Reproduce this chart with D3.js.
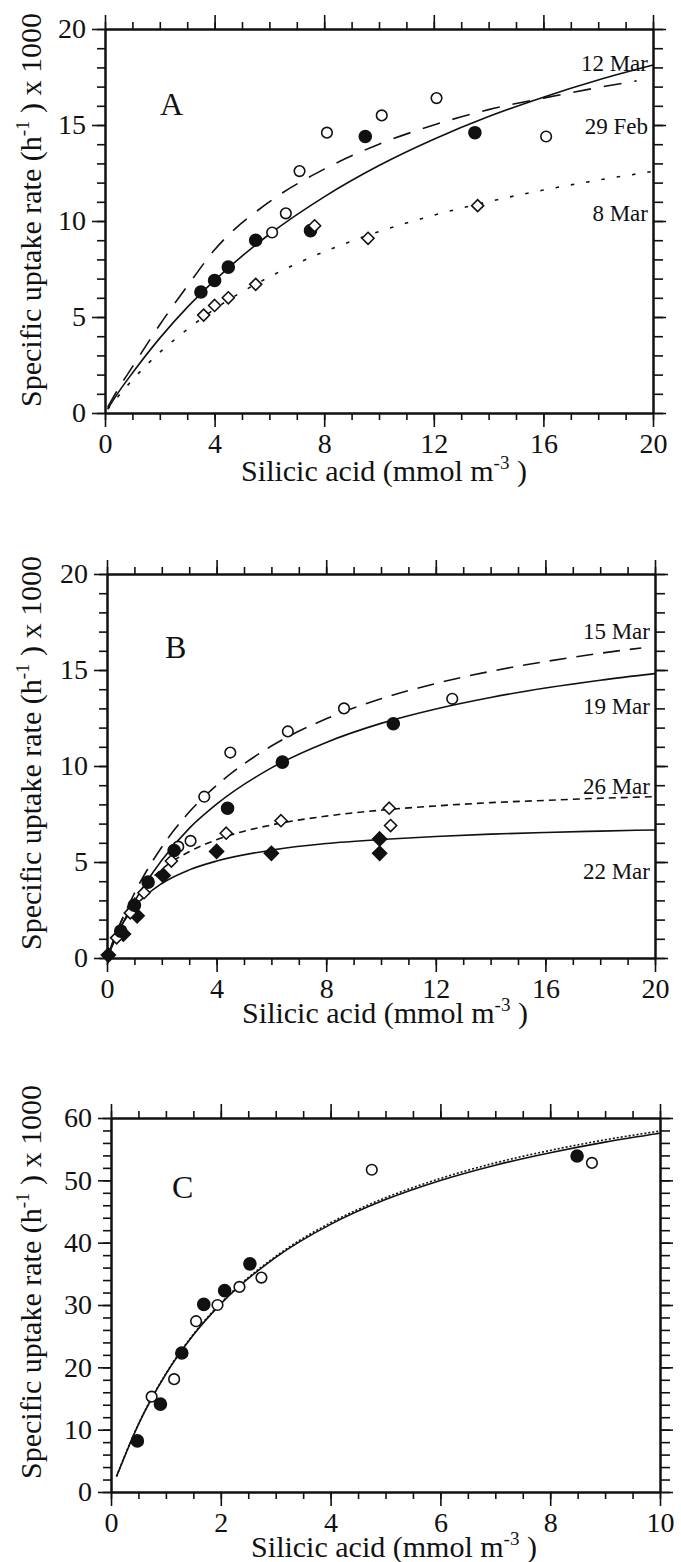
<!DOCTYPE html>
<html lang="en">
<head>
<meta charset="UTF-8" />
<title>Silicic acid uptake</title>
<script src="https://d3js.org/d3.v7.min.js"></script>
<style>
  body { margin: 0; background: #fff; }
  svg { display: block; }
  text { font-family: "Liberation Serif", "Times New Roman", serif; fill: #111; }
  .axis text { font-size: 28px; }
  .axis line { stroke: #111; stroke-width: 1.6; }
  .axis path { stroke: #111; stroke-width: 2; }
  .curve { fill: none; stroke: #111; stroke-width: 1.6; }
</style>
</head>
<body>
<div id="chart"></div>
<script>
// ---- Panel A : [silicic acid, rate] ----
const aFilled = [[3.5, 6.3], [4.0, 6.9], [4.5, 7.6], [5.5, 9.0], [7.5, 9.5], [9.5, 14.4], [13.5, 14.6]];
const aOpen = [[6.1, 9.4], [6.6, 10.4], [7.1, 12.6], [8.1, 14.6], [10.1, 15.5], [12.1, 16.4], [16.1, 14.4]];
const aDiamond = [[3.6, 5.1], [4.0, 5.6], [4.5, 6.0], [5.5, 6.7], [7.65, 9.75], [9.6, 9.1], [13.6, 10.8]];

const aSolid = [[0.1, 0.22], [0.5, 1.1], [1, 2.08], [2, 3.9], [3, 5.5], [4, 6.91], [6, 9.31], [8, 11.26],
  [10, 12.89], [12, 14.26], [14, 15.44], [16, 16.45], [18, 17.34], [20, 18.12]];
const aDashed = [[0.1, 0.3], [0.5, 1.3], [1, 2.4], [2, 4.6], [3, 6.6], [4, 8.5], [6, 11.0], [8, 12.7],
  [10, 14.0], [12, 15.0], [14, 15.8], [16, 16.4], [18, 16.95], [19.4, 17.3]];
const aDotted = [[0.1, 0.19], [0.5, 0.9], [1, 1.72], [2, 3.16], [3, 4.35], [4, 5.41], [6, 7.09], [8, 8.4],
  [10, 9.45], [12, 10.3], [14, 11.01], [16, 11.61], [18, 12.13], [20, 12.58]];
const aLabels = [["12 Mar", 18.2], ["29 Feb", 14.9], ["8 Mar", 10.4]];

// ---- Panel B ----
const bOpen = [[2.6, 5.8], [3.05, 6.1], [3.55, 8.4], [4.5, 10.7], [6.6, 11.8], [8.65, 13.0], [12.6, 13.5]];
const bFilled = [[0.5, 1.4], [1.0, 2.75], [1.5, 3.95], [2.45, 5.6], [4.4, 7.8], [6.4, 10.2], [10.45, 12.2]];
const bDiamondOpen = [[0.35, 1.05], [0.85, 2.35], [1.35, 3.4], [2.35, 5.05], [4.35, 6.5], [6.35, 7.15], [10.3, 7.8], [10.35, 6.9]];
const bDiamondFilled = [[0.05, 0.15], [0.6, 1.25], [1.1, 2.2], [2.05, 4.3], [4.0, 5.55], [6.0, 5.45], [9.95, 6.2], [9.95, 5.45]];

const bDash15 = [[0, 0], [0.5, 1.84], [1, 3.37], [2, 5.78], [3, 7.6], [4, 8.99], [6, 11.04], [8, 12.46],
  [10, 13.5], [12, 14.3], [14, 14.93], [16, 15.44], [18, 15.87], [19.5, 16.15]];
const bSolid19 = [[0, 0], [0.5, 1.6], [1, 2.94], [2, 5.09], [3, 6.75], [4, 8.01], [6, 9.9], [8, 11.23],
  [10, 12.22], [12, 12.97], [14, 13.57], [16, 14.06], [18, 14.47], [20, 14.81]];
const bDash26 = [[0, 0], [0.5, 1.85], [1, 3.08], [2, 4.62], [3, 5.54], [4, 6.16], [6, 6.93], [8, 7.39],
  [10, 7.7], [12, 7.92], [14, 8.09], [16, 8.21], [18, 8.32], [20, 8.4]];
const bSolid22 = [[0, 0], [0.5, 1.62], [1, 2.65], [2, 3.88], [3, 4.59], [4, 5.05], [6, 5.62], [8, 5.96],
  [10, 6.17], [12, 6.33], [14, 6.45], [16, 6.54], [18, 6.61], [20, 6.67]];
const bLabels = [["15 Mar", 17.0], ["19 Mar", 13.1], ["26 Mar", 8.9], ["22 Mar", 4.5]];

// ---- Panel C ----
const cFilled = [[0.48, 8.2], [0.9, 14.1], [1.29, 22.3], [1.69, 30.1], [2.07, 32.3], [2.53, 36.6], [8.49, 53.9]];
const cOpen = [[0.74, 15.3], [1.15, 18.1], [1.55, 27.4], [1.94, 30.0], [2.34, 32.9], [2.74, 34.4], [4.75, 51.7], [8.76, 52.8]];
const cSolid = [[0.1, 2.46], [0.5, 10.85], [1, 18.93], [1.5, 25.19], [2, 30.18], [3, 37.64], [4, 42.94],
  [5, 46.91], [6, 49.98], [7, 52.43], [8, 54.43], [9, 56.13], [10, 57.54]];
const cDotted = [[0.1, 2.5], [0.5, 10.9], [1, 19.0], [1.5, 25.3], [2, 30.3], [3, 37.8], [4, 43.2],
  [5, 47.2], [6, 50.3], [7, 52.8], [8, 54.8], [9, 56.5], [10, 57.9]];

// tick values
const abXMajor = [0, 4, 8, 12, 16, 20];
const abYMajor = [0, 5, 10, 15, 20];
const cXMajor = [0, 2, 4, 6, 8, 10];
const cYMajor = [0, 10, 20, 30, 40, 50, 60];

const width = 681, height = 1562;

const svg = d3.select("#chart").append("svg")
  .attr("width", width)
  .attr("height", height);

const panels = [
  {
    letter: "A", left: 105, right: 653, top: 29, bottom: 413,
    xMax: 20, yMax: 20, xMajor: abXMajor, yMajor: abYMajor, xMinorStep: 1, yMinorStep: 1, yRightStep: 1,
    yTitleCenter: 210, xTitleCenter: 384, xTitleY: 481, letterX: 160, letterY: 115,
    curves: [
      { data: aSolid, dash: null },
      { data: aDashed, dash: "18,13" },
      { data: aDotted, dash: "3.5,12" }
    ],
    marks: [
      { data: aOpen, shape: "circle", filled: false },
      { data: aFilled, shape: "circle", filled: true },
      { data: aDiamond, shape: "diamond", filled: false }
    ],
    labels: aLabels
  },
  {
    letter: "B", left: 107, right: 655, top: 574, bottom: 958,
    xMax: 20, yMax: 20, xMajor: abXMajor, yMajor: abYMajor, xMinorStep: 1, yMinorStep: 1, yRightStep: 1,
    yTitleCenter: 753, xTitleCenter: 385, xTitleY: 1023, letterX: 165, letterY: 658,
    curves: [
      { data: bDash15, dash: "17,10" },
      { data: bSolid19, dash: null },
      { data: bDash26, dash: "7,5" },
      { data: bSolid22, dash: null }
    ],
    marks: [
      { data: bDiamondFilled, shape: "diamond", filled: true },
      { data: bDiamondOpen, shape: "diamond", filled: false },
      { data: bOpen, shape: "circle", filled: false },
      { data: bFilled, shape: "circle", filled: true }
    ],
    labels: bLabels
  },
  {
    letter: "C", left: 111, right: 660, top: 1118, bottom: 1492,
    xMax: 10, yMax: 60, xMajor: cXMajor, yMajor: cYMajor, xMinorStep: 0.5, yMinorStep: 2, yRightStep: 2,
    yTitleCenter: 1282, xTitleCenter: 394, xTitleY: 1557, letterX: 172, letterY: 1198,
    curves: [
      { data: cSolid, dash: null },
      { data: cDotted, dash: "2,2" }
    ],
    marks: [
      { data: cOpen, shape: "circle", filled: false },
      { data: cFilled, shape: "circle", filled: true }
    ],
    labels: []
  }
];

function drawPanel(p) {
  const w = p.right - p.left, h = p.bottom - p.top;
  const x = d3.scaleLinear().domain([0, p.xMax]).range([0, w]);
  const y = d3.scaleLinear().domain([0, p.yMax]).range([h, 0]);
  const g = svg.append("g").attr("transform", `translate(${p.left},${p.top})`);

  const xMinor = d3.range(0, p.xMax + 1e-9, p.xMinorStep);
  const yMinor = d3.range(0, p.yMax + 1e-9, p.yMinorStep);
  const yRight = d3.range(0, p.yMax + 1e-9, p.yRightStep);

  // bottom
  g.append("g").attr("class", "axis").attr("transform", `translate(0,${h})`)
    .call(d3.axisBottom(x).tickValues(xMinor).tickSize(7).tickSizeOuter(0).tickFormat(""));
  g.append("g").attr("class", "axis").attr("transform", `translate(0,${h})`)
    .call(d3.axisBottom(x).tickValues(p.xMajor).tickSize(14).tickPadding(6).tickSizeOuter(0).tickFormat(d3.format("d")));
  // top
  g.append("g").attr("class", "axis")
    .call(d3.axisTop(x).tickValues(xMinor).tickSize(7).tickSizeOuter(0).tickFormat(""));
  g.append("g").attr("class", "axis")
    .call(d3.axisTop(x).tickValues(p.xMajor).tickSize(14).tickSizeOuter(0).tickFormat(""));
  // left
  g.append("g").attr("class", "axis")
    .call(d3.axisLeft(y).tickValues(yMinor).tickSize(8).tickSizeOuter(0).tickFormat(""));
  g.append("g").attr("class", "axis")
    .call(d3.axisLeft(y).tickValues(p.yMajor).tickSize(13).tickPadding(6).tickSizeOuter(0).tickFormat(d3.format("d")));
  // right
  g.append("g").attr("class", "axis").attr("transform", `translate(${w},0)`)
    .call(d3.axisRight(y).tickValues(yRight).tickSize(10).tickSizeOuter(0).tickFormat(""));
  g.append("g").attr("class", "axis").attr("transform", `translate(${w},0)`)
    .call(d3.axisRight(y).tickValues(p.yMajor).tickSize(13).tickSizeOuter(0).tickFormat(""));

  const line = d3.line()
    .x(d => x(d[0]))
    .y(d => y(d[1]))
    .curve(d3.curveMonotoneX);

  p.curves.forEach(c => {
    g.append("path")
      .datum(c.data)
      .attr("class", "curve")
      .attr("d", line)
      .attr("stroke-dasharray", c.dash);
  });

  p.marks.forEach(m => {
    const sel = g.append("g").selectAll(m.shape === "circle" ? "circle" : "path")
      .data(m.data)
      .enter();
    let shapes;
    if (m.shape === "circle") {
      shapes = sel.append("circle")
        .attr("cx", d => x(d[0]))
        .attr("cy", d => y(d[1]))
        .attr("r", m.filled ? 6 : 5.3);
    } else {
      const s = m.filled ? 7 : 6;
      shapes = sel.append("path")
        .attr("d", `M0,${-s}L${s},0L0,${s}L${-s},0Z`)
        .attr("transform", d => `translate(${x(d[0])},${y(d[1])})`);
    }
    shapes
      .attr("fill", m.filled ? "#111" : "#fff")
      .attr("stroke", "#111")
      .attr("stroke-width", 1.6);
  });

  // date labels
  g.selectAll(".date").data(p.labels).enter().append("text")
    .attr("class", "date")
    .attr("x", w - 5)
    .attr("y", d => y(d[1]))
    .attr("dy", "0.32em")
    .attr("text-anchor", "end")
    .attr("font-size", 23)
    .text(d => d[0]);

  // panel letter
  svg.append("text")
    .attr("x", p.letterX)
    .attr("y", p.letterY)
    .attr("font-size", 32)
    .text(p.letter);

  // y title
  const yt = svg.append("text")
    .attr("transform", `translate(41,${p.yTitleCenter}) rotate(-90)`)
    .attr("text-anchor", "middle")
    .attr("font-size", 30);
  yt.append("tspan").text("Specific uptake rate (h");
  yt.append("tspan").attr("dy", -12).attr("font-size", 19).text("-1");
  yt.append("tspan").attr("dy", 12).text(" ) x 1000");

  // x title
  const xt = svg.append("text")
    .attr("x", p.xTitleCenter)
    .attr("y", p.xTitleY)
    .attr("text-anchor", "middle")
    .attr("font-size", 30);
  xt.append("tspan").text("Silicic acid (mmol m");
  xt.append("tspan").attr("dy", -12).attr("font-size", 19).text("-3");
  xt.append("tspan").attr("dy", 12).text(" )");
}

panels.forEach(drawPanel);
</script>
</body>
</html>
